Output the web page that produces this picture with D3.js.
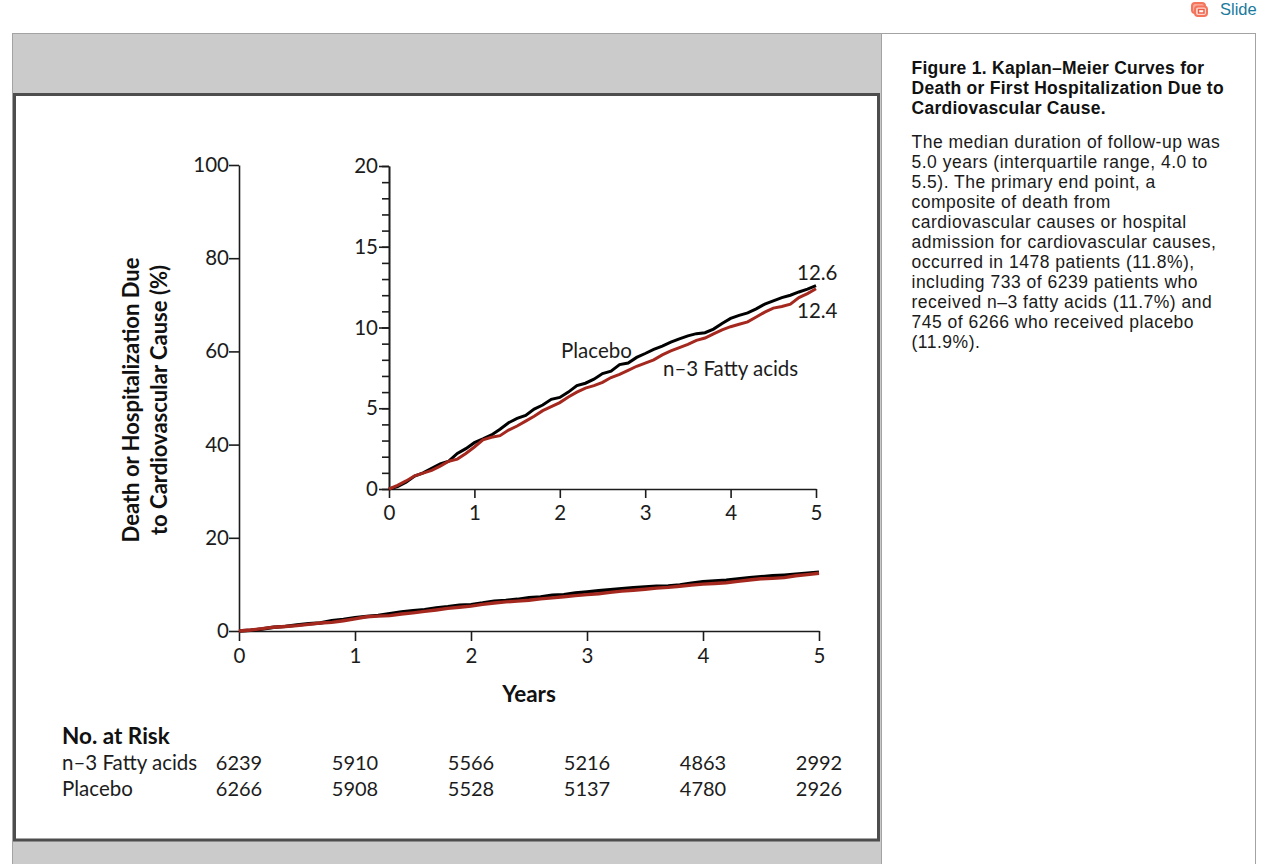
<!DOCTYPE html>
<html><head><meta charset="utf-8">
<script src="https://cdn.jsdelivr.net/npm/d3@7"></script>
<style>
html,body{margin:0;padding:0;background:#fff;overflow:hidden}
#stage{position:relative;width:1265px;height:864px;overflow:hidden}
svg{position:absolute;left:0;top:0}
#cap{position:absolute;left:911.5px;top:58px;width:340px;font-family:"Liberation Sans",Arial,sans-serif;color:#1a1a1a;font-size:17.5px;line-height:20px;white-space:nowrap}
#cap .t{font-weight:bold;color:#111;margin-bottom:14px;letter-spacing:.27px}
#cap .b{letter-spacing:.5px}
#slide{position:absolute;left:1220px;top:-1px;font:16.5px/20px "Liberation Sans",Arial,sans-serif;color:#1a7a9e}
</style></head><body><div id="stage">
<svg id="c" width="1265" height="864"></svg>
<div id="slide">Slide</div>
<div id="cap"><div class="t">Figure 1. Kaplan–Meier Curves for<br>Death or First Hospitalization Due to<br>Cardiovascular Cause.</div>
<div class="b">The median duration of follow-up was<br>5.0 years (interquartile range, 4.0 to<br>5.5). The primary end point, a<br>composite of death from<br>cardiovascular causes or hospital<br>admission for cardiovascular causes,<br>occurred in 1478 patients (11.8%),<br>including 733 of 6239 patients who<br>received n–3 fatty acids (11.7%) and<br>745 of 6266 who received placebo<br>(11.9%).</div></div>
</div>
<script>
const years=[0,.1,.2,.3,.4,.5,.6,.7,.8,.9,1,1.1,1.2,1.3,1.4,1.5,1.6,1.7,1.8,1.9,2,2.1,2.2,2.3,2.4,2.5,2.6,2.7,2.8,2.9,3,3.1,3.2,3.3,3.4,3.5,3.6,3.7,3.8,3.9,4,4.1,4.2,4.3,4.4,4.5,4.6,4.7,4.8,4.9,5];
const placebo=[0,.15,.42,.8,1.0,1.28,1.55,1.72,2.2,2.5,2.87,3.1,3.35,3.7,4.1,4.37,4.55,4.95,5.2,5.55,5.67,6.0,6.4,6.55,6.8,7.15,7.3,7.7,7.8,8.15,8.39,8.65,8.85,9.1,9.3,9.48,9.62,9.68,9.9,10.25,10.56,10.75,10.9,11.15,11.45,11.65,11.85,12.0,12.2,12.38,12.6];
const fatty=[0,.22,.5,.82,.98,1.15,1.42,1.72,1.85,2.2,2.6,3.05,3.2,3.3,3.65,3.9,4.2,4.5,4.85,5.1,5.35,5.7,6.0,6.25,6.4,6.6,6.9,7.1,7.35,7.6,7.8,8.0,8.3,8.55,8.75,8.95,9.2,9.35,9.6,9.85,10.05,10.2,10.35,10.65,10.95,11.2,11.3,11.45,11.85,12.1,12.4];
const xTicks=[0,1,2,3,4,5];
const yTicksMain=[0,20,40,60,80,100];
const yTicksInset=[0,5,10,15,20];
const yMinorInset=d3.range(0,21);
const riskRows=["n–3 Fatty acids","Placebo"];
const riskFatty=[6239,5910,5566,5216,4863,2992];
const riskPlacebo=[6266,5908,5528,5137,4780,2926];
const endLabels=["12.6","12.4"];

const FONT='Lato,"Open Sans",sans-serif', INK='#1c1c1c', RED='#a5281f', SIZE=20.5;
const svg=d3.select('#c');
// page frame
svg.append('rect').attr('x',12.5).attr('y',33.5).attr('width',1243).attr('height',840).attr('fill','#fff').attr('stroke','#a3a3a3');
svg.append('rect').attr('x',13).attr('y',34).attr('width',868).attr('height',830).attr('fill','#cbcbcb');
svg.append('rect').attr('x',881).attr('y',34).attr('width',1).attr('height',830).attr('fill','#a3a3a3');
svg.append('rect').attr('x',14.5).attr('y',94.5).attr('width',864).attr('height',745.5).attr('fill','#fff').attr('stroke','#4d4d4d').attr('stroke-width',3);
// slide icon
const ic=svg.append('g').attr('stroke','#f4745c').attr('stroke-width',2);
ic.append('rect').attr('x',1192).attr('y',3).attr('width',13).attr('height',10).attr('rx',3).attr('fill','#f9a898');
ic.append('rect').attr('x',1195).attr('y',6.5).attr('width',12).attr('height',9.5).attr('rx',3).attr('fill','#fbd5cc');
ic.append('rect').attr('x',1198.5).attr('y',9.5).attr('width',5.5).attr('height',3.5).attr('fill','#fff').attr('stroke','#ee5a44').attr('stroke-width',1.4);

const xM=d3.scaleLinear().domain([0,5]).range([239,819]);
const yM=d3.scaleLinear().domain([0,100]).range([631,165]);
const xI=d3.scaleLinear().domain([0,5]).range([389,816]);
const yI=d3.scaleLinear().domain([0,20]).range([489,166]);
const fmt=d3.format('d');

function style(g){
  g.selectAll('path.domain').attr('stroke',INK).attr('stroke-width',1.6);
  g.selectAll('.tick line').attr('stroke',INK).attr('stroke-width',1.6);
  g.selectAll('text').attr('font-family',FONT).attr('font-size',SIZE).attr('fill',INK);
}
// main axes
let g=svg.append('g').attr('transform','translate(239,0)').call(d3.axisLeft(yM).tickValues(yTicksMain).tickFormat(fmt).tickSize(10).tickPadding(0).tickSizeOuter(0));style(g);
g=svg.append('g').attr('transform','translate(0,631)').call(d3.axisBottom(xM).tickValues(xTicks).tickFormat(fmt).tickSize(10).tickPadding(7).tickSizeOuter(0));style(g);
// inset axes
g=svg.append('g').attr('transform','translate(389,0)').call(d3.axisLeft(yI).tickValues(yMinorInset).tickSize(7).tickFormat('').tickSizeOuter(0));style(g);
g=svg.append('g').attr('transform','translate(389,0)').call(d3.axisLeft(yI).tickValues(yTicksInset).tickFormat(fmt).tickSize(10).tickPadding(1).tickSizeOuter(0));style(g);
g=svg.append('g').attr('transform','translate(0,489)').call(d3.axisBottom(xI).tickValues(xTicks).tickFormat(fmt).tickSize(9).tickPadding(7).tickSizeOuter(0));style(g);

function curves(x,y,w){
  const line=d3.line().x((d,i)=>x(years[i])).y(d=>y(d));
  svg.append('path').datum(placebo).attr('d',line).attr('fill','none').attr('stroke','#000').attr('stroke-width',w);
  svg.append('path').datum(fatty).attr('d',line).attr('fill','none').attr('stroke',RED).attr('stroke-width',w);
}
curves(xM,yM,3.4);
curves(xI,yI,3);

function txt(s,x,y,o={}){return svg.append('text').text(s).attr('x',x).attr('y',y).attr('font-family',FONT).attr('font-size',o.size||SIZE).attr('font-weight',o.w||400).attr('fill',o.c||INK).attr('text-anchor',o.a||'start');}
txt('Placebo',561,358);
txt('n–3 Fatty acids',663,376);
txt(endLabels[0],797,280);
txt(endLabels[1],797,318);
txt('Years',529,702,{w:700,a:'middle',c:'#111',size:22.5});
svg.append('text').attr('transform','translate(138.5,400) rotate(-90)').attr('text-anchor','middle').attr('font-family',FONT).attr('font-weight',700).attr('font-size',22).attr('fill','#111').text('Death or Hospitalization Due');
svg.append('text').attr('transform','translate(166.5,400) rotate(-90)').attr('text-anchor','middle').attr('font-family',FONT).attr('font-weight',700).attr('font-size',22).attr('fill','#111').text('to Cardiovascular Cause (%)');
txt('No. at Risk',62,744,{w:700,size:22.5,c:'#111'});
[riskFatty,riskPlacebo].forEach((row,r)=>{
  const by=770+r*26;
  txt(riskRows[r],62,by);
  svg.append('g').selectAll('text').data(row).join('text').text(d=>d).attr('x',(d,i)=>xM(xTicks[i])).attr('y',by).attr('text-anchor','middle').attr('font-family',FONT).attr('font-size',20).attr('fill',INK);
});
</script></body></html>
